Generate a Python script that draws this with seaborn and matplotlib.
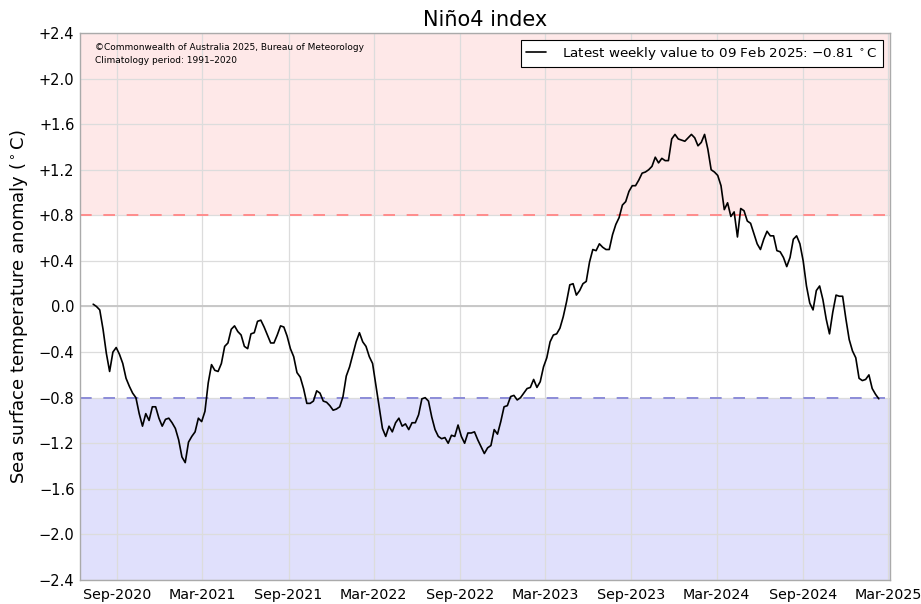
import matplotlib
matplotlib.use("Agg")
import matplotlib.pyplot as plt
import matplotlib.dates as mdates
import seaborn as sns
import pandas as pd
import numpy as np

# Weekly Niño4 anomaly values (°C), ending 09 Feb 2025
seg_2020_2021 = [0.02, 0.00, -0.03, -0.20, -0.41, -0.57, -0.40, -0.36, -0.42, -0.50,
                 -0.63, -0.70, -0.76, -0.80, -0.94, -1.05, -0.94, -1.00, -0.88, -0.88,
                 -0.98, -1.05, -0.99, -0.98, -1.02, -1.07, -1.17, -1.32, -1.37, -1.19,
                 -1.14, -1.10, -0.98, -1.01, -0.92, -0.67, -0.51, -0.56, -0.57, -0.50,
                 -0.35, -0.32, -0.20, -0.17, -0.22, -0.25, -0.35]
seg_2021_2022 = [-0.37, -0.24, -0.23, -0.13, -0.12, -0.18, -0.25, -0.32, -0.32, -0.25,
                 -0.17, -0.18, -0.26, -0.37, -0.44, -0.58, -0.62, -0.72, -0.85, -0.85,
                 -0.83, -0.74, -0.76, -0.83, -0.84, -0.87, -0.91, -0.90, -0.88, -0.79,
                 -0.61, -0.53, -0.42, -0.31, -0.23, -0.31, -0.35, -0.44, -0.50, -0.69,
                 -0.88, -1.07, -1.14, -1.05, -1.10, -1.02, -0.98, -1.05, -1.03, -1.08]
seg_2022_2023 = [-1.02, -1.02, -0.95, -0.81, -0.80, -0.83, -0.97, -1.08, -1.14, -1.16,
                 -1.15, -1.20, -1.13, -1.14, -1.04, -1.14, -1.20, -1.11, -1.11, -1.10,
                 -1.17, -1.23, -1.29, -1.24, -1.22, -1.08, -1.12, -1.01, -0.88, -0.87,
                 -0.79, -0.78, -0.82, -0.80, -0.76, -0.72, -0.71, -0.64, -0.71, -0.66,
                 -0.53, -0.45, -0.31, -0.25, -0.24, -0.19, -0.09, 0.04, 0.19]
seg_2023_2024 = [0.20, 0.10, 0.14, 0.20, 0.22, 0.39, 0.50, 0.49, 0.55, 0.52,
                 0.50, 0.50, 0.63, 0.72, 0.78, 0.89, 0.92, 1.01, 1.06, 1.06,
                 1.11, 1.17, 1.18, 1.20, 1.23, 1.31, 1.26, 1.30, 1.28, 1.28,
                 1.47, 1.51, 1.47, 1.46, 1.45, 1.48, 1.51, 1.48, 1.41, 1.44,
                 1.51, 1.38, 1.20, 1.18, 1.15, 1.06, 0.85, 0.91, 0.79]
seg_2024_2025 = [0.83, 0.61, 0.86, 0.84, 0.75, 0.73, 0.64, 0.55, 0.50, 0.59,
                 0.66, 0.62, 0.62, 0.49, 0.48, 0.43, 0.35, 0.43, 0.59, 0.62,
                 0.55, 0.40, 0.18, 0.03, -0.03, 0.14, 0.18, 0.06, -0.11, -0.24,
                 -0.05, 0.10, 0.09, 0.09, -0.11, -0.29, -0.39, -0.45, -0.63, -0.65,
                 -0.64, -0.60, -0.72, -0.77, -0.81]

values = seg_2020_2021 + seg_2021_2022 + seg_2022_2023 + seg_2023_2024 + seg_2024_2025
end_date = "2025-02-09"
dates = pd.date_range(end=end_date, periods=len(values), freq="7D")
df = pd.DataFrame({"date": dates, "anom": values})

yticks = [-2.4, -2.0, -1.6, -1.2, -0.8, -0.4, 0.0, 0.4, 0.8, 1.2, 1.6, 2.0, 2.4]
ytick_labels = ["\u22122.4", "\u22122.0", "\u22121.6", "\u22121.2", "\u22120.8", "\u22120.4",
                "0.0", "+0.4", "+0.8", "+1.2", "+1.6", "+2.0", "+2.4"]
xtick_dates = pd.to_datetime(["2020-09-01", "2021-03-01", "2021-09-01", "2022-03-01",
                              "2022-09-01", "2023-03-01", "2023-09-01", "2024-03-01",
                              "2024-09-01", "2025-03-01"])
threshold = 0.8

sns.set_theme(style="white")
plt.rcParams["font.family"] = ["DejaVu Sans"]
plt.rcParams["text.color"] = "black"
plt.rcParams["axes.labelcolor"] = "black"
plt.rcParams["xtick.color"] = "black"
plt.rcParams["ytick.color"] = "black"

fig = plt.figure(figsize=(9.21, 6.04), dpi=100)
ax = fig.add_axes([0.0869, 0.0397, 0.8795, 0.9057])

xmin = pd.Timestamp("2020-06-14")
xmax = pd.Timestamp("2025-03-05")
ax.axhspan(threshold, 2.4, color="#fee8e8", zorder=0, lw=0)
ax.axhspan(-2.4, -threshold, color="#e0e0fc", zorder=0, lw=0)

ax.set_yticks(yticks)
ax.set_xticks(xtick_dates)
ax.grid(True, color="#dcdcdc", lw=0.9, zorder=1)
ax.axhline(0, color="#c8c8c8", lw=1.4, zorder=1)
ax.axhline(threshold, color="#ff8c8c", lw=1.4, ls=(0, (6, 6)), zorder=2)
ax.axhline(-threshold, color="#8c8cd8", lw=1.4, ls=(0, (6, 6)), zorder=2)

sns.lineplot(data=df, x="date", y="anom", ax=ax, color="black", lw=1.2, zorder=3,
             label="Latest weekly value to 09 Feb 2025: \u22120.81 $^\\circ$C")

ax.set_xlim(xmin, xmax)
ax.set_ylim(-2.4, 2.4)
ax.set_yticklabels(ytick_labels, fontsize=10.5)
ax.xaxis.set_major_formatter(mdates.DateFormatter("%b-%Y"))
for lab in ax.get_xticklabels():
    lab.set_fontsize(10.3)
ax.tick_params(axis="both", direction="in", length=4, color="#aaaaaa", pad=4)
ax.tick_params(axis="x", pad=6)

for sp in ax.spines.values():
    sp.set_color("#aaaaaa")
    sp.set_linewidth(1.0)

ax.set_xlabel("")
ax.set_ylabel("Sea surface temperature anomaly ($^\\circ$C)", fontsize=13, labelpad=6)
ax.set_title("Niño4 index", fontsize=15, pad=5)

ax.text(0.019, 0.982, "\u00a9Commonwealth of Australia 2025, Bureau of Meteorology",
        transform=ax.transAxes, fontsize=6.5, va="top", ha="left")
ax.text(0.019, 0.958, "Climatology period: 1991\u20132020",
        transform=ax.transAxes, fontsize=6.5, va="top", ha="left")

leg = ax.legend(loc="upper right", fontsize=9.7, frameon=True, fancybox=False,
                framealpha=1, edgecolor="black", borderaxespad=0.5, handlelength=1.5,
                handletextpad=1.2)
leg.get_frame().set_linewidth(0.8)

fig.savefig("out.png", dpi=100)
